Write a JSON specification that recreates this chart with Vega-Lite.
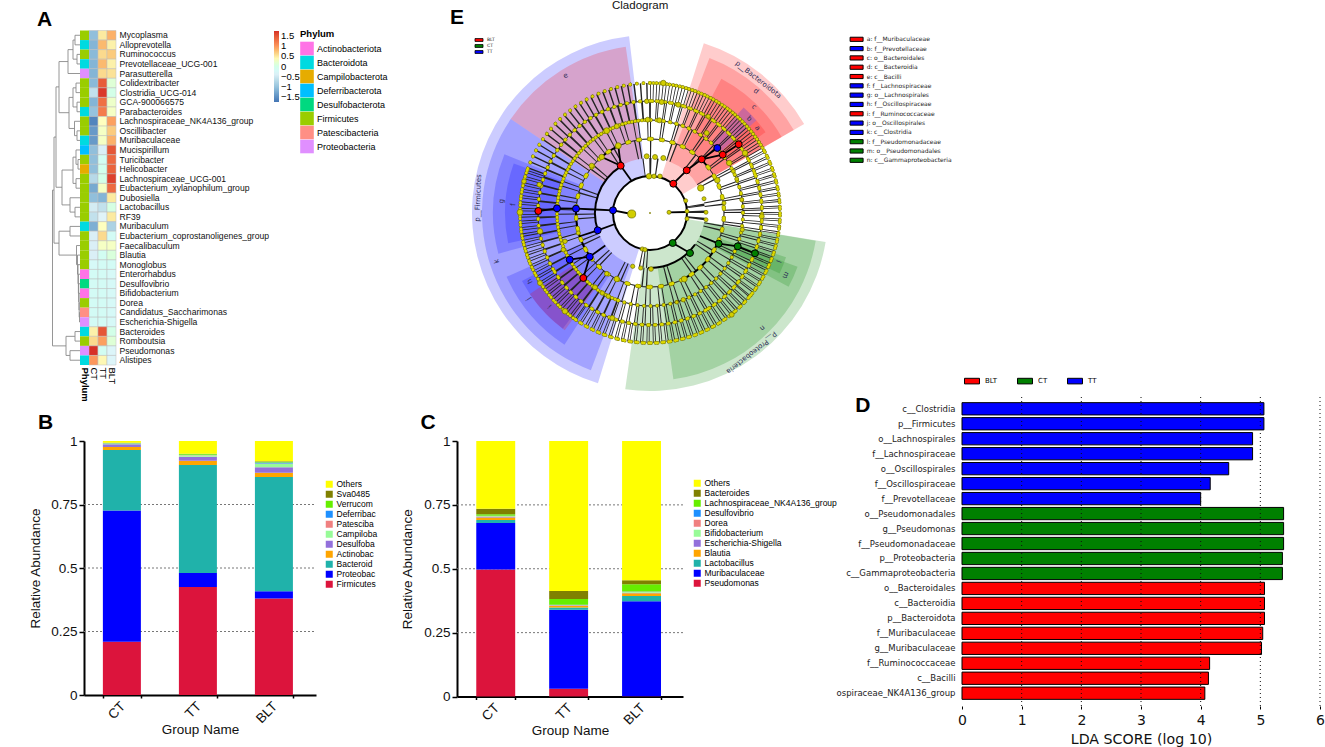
{"$schema":"https://vega.github.io/schema/vega-lite/v6.json","width":1325,"height":747,"padding":0,"autosize":{"type":"none"},"background":"white","config":{"view":{"stroke":null},"font":"Liberation Sans","axis":{"labelFont":"Liberation Sans","titleFont":"Liberation Sans","titleFontWeight":"normal","labelColor":"#111","titleColor":"#111","grid":false,"labelFlush":false},"legend":{"labelFont":"Liberation Sans","titleFont":"Liberation Sans"}},
"datasets":{
"heat":[
{"t":"Mycoplasma","Phylum":"Firmicutes","CT":-1.05,"TT":0.5,"BLT":0.85},
{"t":"Alloprevotella","Phylum":"Bacteroidota","CT":-1.15,"TT":0.8,"BLT":0.45},
{"t":"Ruminococcus","Phylum":"Firmicutes","CT":-1.1,"TT":0.6,"BLT":0.7},
{"t":"Prevotellaceae_UCG-001","Phylum":"Bacteroidota","CT":-1.15,"TT":0.8,"BLT":0.45},
{"t":"Parasutterella","Phylum":"Proteobacteria","CT":-1.15,"TT":0.6,"BLT":0.55},
{"t":"Colidextribacter","Phylum":"Firmicutes","CT":-1.1,"TT":1.45,"BLT":0.15},
{"t":"Clostridia_UCG-014","Phylum":"Firmicutes","CT":-0.6,"TT":1.7,"BLT":0},
{"t":"GCA-900066575","Phylum":"Firmicutes","CT":-1.15,"TT":1.3,"BLT":0.25},
{"t":"Parabacteroides","Phylum":"Bacteroidota","CT":-1,"TT":1.2,"BLT":0.3},
{"t":"Lachnospiraceae_NK4A136_group","Phylum":"Firmicutes","CT":-1.6,"TT":0.35,"BLT":0.95},
{"t":"Oscillibacter","Phylum":"Firmicutes","CT":-1.4,"TT":0.3,"BLT":0.7},
{"t":"Muribaculaceae","Phylum":"Bacteroidota","CT":-1.4,"TT":0.3,"BLT":0.85},
{"t":"Mucispirillum","Phylum":"Deferribacterota","CT":-1.05,"TT":-0.4,"BLT":1.5},
{"t":"Turicibacter","Phylum":"Firmicutes","CT":-1.05,"TT":-0.1,"BLT":1.35},
{"t":"Helicobacter","Phylum":"Campilobacterota","CT":-1.05,"TT":-0.05,"BLT":1.4},
{"t":"Lachnospiraceae_UCG-001","Phylum":"Firmicutes","CT":-0.7,"TT":0,"BLT":1.65},
{"t":"Eubacterium_xylanophilum_group","Phylum":"Firmicutes","CT":-1.25,"TT":0.3,"BLT":1.35},
{"t":"Dubosiella","Phylum":"Firmicutes","CT":-1.05,"TT":-1.15,"BLT":0.5},
{"t":"Lactobacillus","Phylum":"Firmicutes","CT":-0.45,"TT":-0.6,"BLT":0.05},
{"t":"RF39","Phylum":"Firmicutes","CT":-0.6,"TT":-0.35,"BLT":0.5},
{"t":"Muribaculum","Phylum":"Bacteroidota","CT":-1.2,"TT":0.35,"BLT":-0.8},
{"t":"Eubacterium_coprostanoligenes_group","Phylum":"Firmicutes","CT":-0.4,"TT":0.6,"BLT":-0.15},
{"t":"Faecalibaculum","Phylum":"Firmicutes","CT":-0.4,"TT":0.3,"BLT":0.3},
{"t":"Blautia","Phylum":"Firmicutes","CT":-0.4,"TT":-0.1,"BLT":0.1},
{"t":"Monoglobus","Phylum":"Firmicutes","CT":-0.2,"TT":-0.15,"BLT":-0.15},
{"t":"Enterorhabdus","Phylum":"Actinobacteriota","CT":-0.15,"TT":-0.15,"BLT":-0.2},
{"t":"Desulfovibrio","Phylum":"Desulfobacterota","CT":-0.15,"TT":-0.15,"BLT":-0.2},
{"t":"Bifidobacterium","Phylum":"Actinobacteriota","CT":-0.15,"TT":-0.15,"BLT":-0.2},
{"t":"Dorea","Phylum":"Firmicutes","CT":-0.15,"TT":-0.15,"BLT":-0.2},
{"t":"Candidatus_Saccharimonas","Phylum":"Patescibacteria","CT":-0.15,"TT":-0.15,"BLT":-0.2},
{"t":"Escherichia-Shigella","Phylum":"Proteobacteria","CT":-0.15,"TT":-0.15,"BLT":-0.2},
{"t":"Bacteroides","Phylum":"Bacteroidota","CT":0.45,"TT":1.5,"BLT":0},
{"t":"Romboutsia","Phylum":"Firmicutes","CT":0.6,"TT":0.95,"BLT":0.15},
{"t":"Pseudomonas","Phylum":"Proteobacteria","CT":1.75,"TT":-0.1,"BLT":-0.3},
{"t":"Alistipes","Phylum":"Bacteroidota","CT":1,"TT":0.4,"BLT":-0.3}],
"tree":[
{"a":0,"r":1,"h":5,"s":2,"b":0},{"a":0,"r":3,"h":3,"s":4,"b":0},{"a":5,"r":1.5,"h":7,"s":3.5,"b":3},{"a":7,"r":2.5,"h":12,"s":5,"b":0},
{"a":0,"r":6,"h":4,"s":7,"b":0},{"a":0,"r":8,"h":3,"s":9,"b":0},{"a":4,"r":6.5,"h":7,"s":8.5,"b":3},{"a":0,"r":11,"h":3,"s":12,"b":0},
{"a":0,"r":10,"h":5.5,"s":11.5,"b":3},{"a":7,"r":7.5,"h":11,"s":10.75,"b":5.5},{"a":12,"r":3.75,"h":21,"s":9.1,"b":11},
{"a":0,"r":14,"h":2,"s":15,"b":0},{"a":0,"r":13,"h":4,"s":14.5,"b":2},{"a":0,"r":16,"h":4,"s":17,"b":0},{"a":4,"r":13.75,"h":7,"s":16.5,"b":4},
{"a":0,"r":19,"h":5,"s":20,"b":0},{"a":0,"r":18,"h":10,"s":19.5,"b":5},{"a":7,"r":15.1,"h":18,"s":18.75,"b":10},{"a":21,"r":6.4,"h":24,"s":16.9,"b":18},
{"a":0,"r":21,"h":10,"s":22,"b":0},{"a":0,"r":30,"h":0.5,"s":31,"b":0},{"a":0,"r":29,"h":0.8,"s":30.5,"b":0.5},{"a":0,"r":28,"h":1,"s":29.75,"b":0.8},
{"a":0,"r":27,"h":1.3,"s":28.9,"b":1},{"a":0,"r":26,"h":1.6,"s":28,"b":1.3},{"a":0,"r":25,"h":2,"s":27,"b":1.6},{"a":0,"r":24,"h":2.5,"s":26,"b":2},
{"a":0,"r":23,"h":3.5,"s":25,"b":2.5},{"a":10,"r":21.5,"h":21,"s":24,"b":3.5},{"a":24,"r":11.65,"h":26,"s":22.75,"b":21},
{"a":0,"r":32,"h":5,"s":33,"b":0},{"a":0,"r":34,"h":10,"s":35,"b":0},{"a":5,"r":32.5,"h":14,"s":34.5,"b":10},{"a":26,"r":17.2,"h":27.5,"s":33.5,"b":14}],
"dots":[
{"a0":0,"a1":62,"r0":130,"r1":130},{"a0":62,"a1":130,"r0":130,"r1":130},{"a0":130,"a1":215,"r0":130,"r1":130},{"a0":215,"a1":290,"r0":130,"r1":130},{"a0":290,"a1":360,"r0":130,"r1":130},
{"a0":0,"a1":70,"r0":112,"r1":112},{"a0":70,"a1":150,"r0":112,"r1":112},{"a0":150,"a1":240,"r0":112,"r1":112},{"a0":240,"a1":360,"r0":112,"r1":112},
{"a0":0,"a1":90,"r0":93,"r1":93},{"a0":90,"a1":200,"r0":93,"r1":93},{"a0":200,"a1":360,"r0":93,"r1":93}]
},
"resolve":{"scale":{"x":"independent","y":"independent","color":"independent"},"axis":{"x":"independent","y":"independent"},"legend":{"color":"independent"}},
"layer":[
{"data":{"name":"tree"},"layer":[
{"mark":{"type":"rule","color":"#8a8a8a","strokeWidth":0.9},"encoding":{"x":{"field":"h","type":"quantitative","axis":null,"scale":{"domain":[28,0],"range":[52,80],"nice":false,"zero":false}},"y":{"field":"r","type":"quantitative","axis":null,"scale":{"domain":[0.5,35.5],"range":[30.5,365],"nice":false,"zero":false}},"y2":{"field":"s"}}},
{"mark":{"type":"rule","color":"#8a8a8a","strokeWidth":0.9},"encoding":{"x":{"field":"a","type":"quantitative","axis":null,"scale":{"domain":[28,0],"range":[52,80],"nice":false,"zero":false}},"x2":{"field":"h"},"y":{"field":"r","type":"quantitative","axis":null,"scale":{"domain":[0.5,35.5],"range":[30.5,365],"nice":false,"zero":false}}}},
{"mark":{"type":"rule","color":"#8a8a8a","strokeWidth":0.9},"encoding":{"x":{"field":"b","type":"quantitative","axis":null,"scale":{"domain":[28,0],"range":[52,80],"nice":false,"zero":false}},"x2":{"field":"h"},"y":{"field":"s","type":"quantitative","axis":null,"scale":{"domain":[0.5,35.5],"range":[30.5,365],"nice":false,"zero":false}}}},
{"data":{"values":[{"n":"A","h":43,"r":-0.6}]},"mark":{"type":"text","align":"left","baseline":"middle","fontSize":21,"fontWeight":"bold","font":"Liberation Sans","color":"#000"},"encoding":{"x":{"field":"h","type":"quantitative","axis":null,"scale":{"domain":[28,0],"range":[52,80],"nice":false,"zero":false}},"y":{"field":"r","type":"quantitative","axis":null,"scale":{"domain":[0.5,35.5],"range":[30.5,365],"nice":false,"zero":false}},"text":{"field":"n"}}}
]},
{"data":{"name":"heat"},"transform":[{"fold":["CT","TT","BLT"],"as":["c","v"]}],"mark":{"type":"rect","stroke":"#bcbcbc","strokeWidth":0.5},"encoding":{
"x":{"field":"c","type":"nominal","scale":{"domain":["Phylum","CT","TT","BLT"],"range":[80,116]},"axis":{"orient":"bottom","offset":-382,"title":null,"labelAngle":90,"domain":false,"ticks":false,"labelPadding":2,"labelFontSize":9.5,"labelColor":"#000","labelFontWeight":{"condition":{"test":"datum.value=='Phylum'","value":"bold"},"value":"normal"}}},
"y":{"field":"t","type":"nominal","sort":null,"scale":{"range":[30.5,365]},"axis":{"orient":"right","offset":-1209,"title":null,"domain":false,"ticks":false,"labelPadding":3,"labelFontSize":8.6,"labelLimit":200,"labelColor":"#111"}},
"color":{"field":"v","type":"quantitative","scale":{"domain":[-1.75,-1.05,-0.35,0.35,1.05,1.75],"range":["#4575B4","#91BFDB","#E0F3F8","#FFFFBF","#FC8D59","#D73027"]},"legend":{"orient":"none","legendX":274,"legendY":31,"title":null,"gradientLength":71,"gradientThickness":5,"values":[-1.5,-1,-0.5,0,0.5,1,1.5],"format":".1~f","labelFontSize":9.5,"labelOffset":2,"labelExpr":"replace(datum.label,'-','−')"}}}},
{"data":{"name":"heat"},"transform":[{"fold":["Phylum"],"as":["c","p"]}],"mark":{"type":"rect"},"encoding":{
"x":{"field":"c","type":"nominal","axis":null,"scale":{"domain":["Phylum","CT","TT","BLT"],"range":[80,116]}},
"y":{"field":"t","type":"nominal","sort":null,"axis":null,"scale":{"range":[30.5,365]}},
"color":{"field":"p","type":"nominal","scale":{"domain":["Actinobacteriota","Bacteroidota","Campilobacterota","Deferribacterota","Desulfobacterota","Firmicutes","Patescibacteria","Proteobacteria"],"range":["#FF73E6","#00DAE0","#E6AC00","#00BFFF","#00D980","#9ACD00","#FF8F85","#E08FFF"]},"legend":{"orient":"none","legendX":300,"legendY":29,"title":"Phylum","titleFontSize":9.5,"titleFontWeight":"bold","titlePadding":3,"symbolType":"square","symbolSize":185,"symbolStrokeWidth":0,"rowPadding":0,"labelFontSize":9,"labelOffset":3,"labelLimit":90}}}},

{"data":{"values":[{"v":0.25},{"v":0.5},{"v":0.75}]},"mark":{"type":"rule","color":"#777","strokeDash":[2,2],"strokeWidth":1},"encoding":{"x":{"datum":0,"type":"quantitative","axis":null,"scale":{"domain":[0,1],"range":[84,316],"nice":false}},"x2":{"datum":1},"y":{"field":"v","type":"quantitative","axis":null,"scale":{"domain":[0,1],"range":[695,441],"nice":false}}}},
{"data":{"values":[{"n":"B","x":-0.198,"y":1.071}]},"mark":{"type":"text","align":"left","baseline":"middle","fontSize":21,"fontWeight":"bold","color":"#000"},"encoding":{"x":{"field":"x","type":"quantitative","axis":null,"scale":{"domain":[0,1],"range":[84,316],"nice":false,"zero":false}},"y":{"field":"y","type":"quantitative","axis":null,"scale":{"domain":[0,1],"range":[695,441],"nice":false,"zero":false}},"text":{"field":"n"}}},
{"data":{"values":[
{"o":1,"t":"Firmicutes","CT":0.21,"TT":0.425,"BLT":0.38},
{"o":2,"t":"Proteobac","CT":0.516,"TT":0.055,"BLT":0.028},
{"o":3,"t":"Bacteroid","CT":0.239,"TT":0.426,"BLT":0.45},
{"o":4,"t":"Actinobac","CT":0.011,"TT":0.016,"BLT":0.017},
{"o":5,"t":"Desulfoba","CT":0.011,"TT":0.016,"BLT":0.022},
{"o":6,"t":"Campiloba","CT":0.002,"TT":0.006,"BLT":0.013},
{"o":7,"t":"Patesciba","CT":0.001,"TT":0.001,"BLT":0.001},
{"o":8,"t":"Deferribac","CT":0.001,"TT":0.001,"BLT":0.004},
{"o":9,"t":"Verrucom","CT":0.001,"TT":0.003,"BLT":0.003},
{"o":10,"t":"Sva0485","CT":0.001,"TT":0.001,"BLT":0.002},
{"o":11,"t":"Others","CT":0.007,"TT":0.05,"BLT":0.08}]},
"transform":[{"fold":["CT","TT","BLT"],"as":["g","v"]}],"mark":{"type":"bar"},"encoding":{
"x":{"field":"g","type":"nominal","scale":{"domain":["CT","TT","BLT"],"range":[84,316],"paddingInner":0.5,"paddingOuter":0.276,"align":0.45},"axis":{"orient":"bottom","offset":-52,"title":"Group Name","labelAngle":-45,"labelOffset":-4,"tickBand":"extent","domainWidth":2,"domainColor":"#000","tickColor":"#000","tickWidth":1.5,"tickSize":3,"labelFontSize":13.5,"titleFontSize":13.5,"labelPadding":1,"titlePadding":-3}},
"y":{"field":"v","type":"quantitative","stack":"zero","scale":{"domain":[0,1],"range":[695,441],"nice":false},"axis":{"orient":"left","offset":-84,"title":"Relative Abundance","values":[0,0.25,0.5,0.75,1],"format":".2~f","domainWidth":2,"domainColor":"#000","tickColor":"#000","tickWidth":1.5,"tickSize":5,"labelFontSize":13.5,"titleFontSize":13.5,"labelPadding":2,"titlePadding":8}},
"order":{"field":"o","type":"quantitative"},
"color":{"field":"t","type":"nominal","scale":{"domain":["Others","Sva0485","Verrucom","Deferribac","Patesciba","Campiloba","Desulfoba","Actinobac","Bacteroid","Proteobac","Firmicutes"],"range":["#FFFF00","#808000","#66EE00","#1E90FF","#F08080","#98FB98","#9370DB","#FFA500","#20B2AA","#0000FF","#DC143C"]},"legend":{"orient":"none","legendX":325,"legendY":480,"title":null,"symbolType":"square","symbolSize":49,"symbolStrokeWidth":0,"labelFontSize":8.5,"labelOffset":3,"rowPadding":1,"labelLimit":70}}}},

{"data":{"values":[{"v":0.25},{"v":0.5},{"v":0.75}]},"mark":{"type":"rule","color":"#777","strokeDash":[2,2],"strokeWidth":1},"encoding":{"x":{"datum":0,"type":"quantitative","axis":null,"scale":{"domain":[0,1],"range":[457,683],"nice":false}},"x2":{"datum":1},"y":{"field":"v","type":"quantitative","axis":null,"scale":{"domain":[0,1],"range":[696.5,441],"nice":false}}}},
{"data":{"values":[{"n":"C","x":-0.162,"y":1.07}]},"mark":{"type":"text","align":"left","baseline":"middle","fontSize":21,"fontWeight":"bold","color":"#000"},"encoding":{"x":{"field":"x","type":"quantitative","axis":null,"scale":{"domain":[0,1],"range":[457,683],"nice":false,"zero":false}},"y":{"field":"y","type":"quantitative","axis":null,"scale":{"domain":[0,1],"range":[696.5,441],"nice":false,"zero":false}},"text":{"field":"n"}}},
{"data":{"values":[
{"o":1,"t":"Pseudomonas","CT":0.497,"TT":0.03,"BLT":0.001},
{"o":2,"t":"Muribaculaceae","CT":0.182,"TT":0.31,"BLT":0.372},
{"o":3,"t":"Lactobacillus","CT":0.012,"TT":0.008,"BLT":0.02},
{"o":4,"t":"Blautia","CT":0.01,"TT":0.006,"BLT":0.011},
{"o":5,"t":"Escherichia-Shigella","CT":0.002,"TT":0.002,"BLT":0.002},
{"o":6,"t":"Bifidobacterium","CT":0.002,"TT":0.001,"BLT":0.003},
{"o":7,"t":"Dorea","CT":0.001,"TT":0.001,"BLT":0.001},
{"o":8,"t":"Desulfovibrio","CT":0.001,"TT":0.001,"BLT":0.001},
{"o":9,"t":"Lachnospiraceae_NK4A136_group","CT":0.006,"TT":0.023,"BLT":0.028},
{"o":10,"t":"Bacteroides","CT":0.022,"TT":0.031,"BLT":0.016},
{"o":11,"t":"Others","CT":0.265,"TT":0.587,"BLT":0.545}]},
"transform":[{"fold":["CT","TT","BLT"],"as":["g","v"]}],"mark":{"type":"bar"},"encoding":{
"x":{"field":"g","type":"nominal","scale":{"domain":["CT","TT","BLT"],"range":[457,683],"paddingInner":0.466,"paddingOuter":0.283,"align":0.467},"axis":{"orient":"bottom","offset":-50.5,"title":"Group Name","labelAngle":-45,"labelOffset":-4,"tickBand":"extent","domainWidth":2,"domainColor":"#000","tickColor":"#000","tickWidth":1.5,"tickSize":3,"labelFontSize":13.5,"titleFontSize":13.5,"labelPadding":1,"titlePadding":-3}},
"y":{"field":"v","type":"quantitative","stack":"zero","scale":{"domain":[0,1],"range":[696.5,441],"nice":false},"axis":{"orient":"left","offset":-457,"title":"Relative Abundance","values":[0,0.25,0.5,0.75,1],"format":".2~f","domainWidth":2,"domainColor":"#000","tickColor":"#000","tickWidth":1.5,"tickSize":5,"labelFontSize":13.5,"titleFontSize":13.5,"labelPadding":2,"titlePadding":9}},
"order":{"field":"o","type":"quantitative"},
"color":{"field":"t","type":"nominal","scale":{"domain":["Others","Bacteroides","Lachnospiraceae_NK4A136_group","Desulfovibrio","Dorea","Bifidobacterium","Escherichia-Shigella","Blautia","Lactobacillus","Muribaculaceae","Pseudomonas"],"range":["#FFFF00","#808000","#66EE00","#1E90FF","#F08080","#98FB98","#9370DB","#FFA500","#20B2AA","#0000FF","#DC143C"]},"legend":{"orient":"none","legendX":693,"legendY":479,"title":null,"symbolType":"square","symbolSize":49,"symbolStrokeWidth":0,"labelFontSize":8.5,"labelOffset":3,"rowPadding":1,"labelLimit":160}}}},

{"layer":[
{"layer":[
{"data":{"values":[
{"a0":197,"a1":353.25,"r0":37,"r1":178,"g":"TT"},{"a0":304,"a1":351.7,"r0":55,"r1":168,"g":"BLT"},{"a0":200.6,"a1":304,"r0":55,"r1":168,"g":"TT"},{"a0":255,"a1":292,"r0":74,"r1":157,"g":"TT"},{"a0":258,"a1":290,"r0":93,"r1":145,"g":"TT"},{"a0":213,"a1":246,"r0":74,"r1":157,"g":"TT"},{"a0":217,"a1":242,"r0":93,"r1":145,"g":"TT"},{"a0":216,"a1":236,"r0":93,"r1":145,"g":"BLT"},
{"a0":17.6,"a1":60,"r0":37,"r1":178,"g":"BLT"},{"a0":21,"a1":60,"r0":55,"r1":166,"g":"BLT"},{"a0":28,"a1":60,"r0":74,"r1":152,"g":"BLT"},{"a0":41.6,"a1":49,"r0":93,"r1":141,"g":"TT"},{"a0":49,"a1":55,"r0":93,"r1":141,"g":"BLT"},
{"a0":99.4,"a1":188,"r0":37,"r1":178,"g":"CT"},{"a0":99.5,"a1":172,"r0":55,"r1":168,"g":"CT"},{"a0":110,"a1":118,"r0":74,"r1":157,"g":"CT"},{"a0":108,"a1":115,"r0":93,"r1":143,"g":"CT"}]},
"mark":{"type":"arc","opacity":0.2},"encoding":{"color":{"field":"g","type":"nominal","legend":null,"scale":{"domain":["BLT","CT","TT"],"range":["#FF0000","#008000","#0000FF"]}}}},
{"data":{"values":[{"a0":0,"a1":12,"r0":46,"r1":46},{"a0":352,"a1":360,"r0":46,"r1":46},{"a0":183,"a1":193,"r0":46,"r1":46},{"a0":80,"a1":100,"r0":46,"r1":46}]},"mark":{"type":"arc","fillOpacity":0,"stroke":"#222","strokeWidth":18,"strokeDash":[1,5]}},
{"data":{"values":[{"a0":0,"a1":360,"r0":64.5,"r1":64.5}]},"mark":{"type":"arc","fillOpacity":0,"stroke":"#222","strokeWidth":19,"strokeDash":[1.2,22]}},
{"data":{"values":[{"a0":0,"a1":120,"r0":83.5,"r1":83.5},{"a0":120,"a1":360,"r0":83.5,"r1":83.5}]},"mark":{"type":"arc","fillOpacity":0,"stroke":"#222","strokeWidth":19,"strokeDash":[1,12]}},
{"data":{"values":[{"a0":0,"a1":90,"r0":102.5,"r1":102.5},{"a0":90,"a1":200,"r0":102.5,"r1":102.5},{"a0":200,"a1":360,"r0":102.5,"r1":102.5}]},"mark":{"type":"arc","fillOpacity":0,"stroke":"#222","strokeWidth":19,"strokeDash":[0.9,6.6]}},
{"data":{"values":[{"a0":0,"a1":62,"r0":121,"r1":121},{"a0":62,"a1":130,"r0":121,"r1":121},{"a0":130,"a1":215,"r0":121,"r1":121},{"a0":215,"a1":290,"r0":121,"r1":121},{"a0":290,"a1":360,"r0":121,"r1":121}]},"mark":{"type":"arc","fillOpacity":0,"stroke":"#222","strokeWidth":18,"strokeDash":[0.8,5.2]}},
{"data":{"values":[{"a0":0,"a1":360,"r0":74,"r1":74},{"a0":0,"a1":360,"r0":93,"r1":93},{"a0":0,"a1":360,"r0":112,"r1":112}]},"mark":{"type":"arc","fillOpacity":0,"stroke":"#222","strokeWidth":0.7}},
{"data":{"values":[{"a0":0,"a1":360,"r0":37,"r1":37},{"a0":251,"a1":328,"r0":55,"r1":55},{"a0":125,"a1":182,"r0":55,"r1":55},{"a0":234,"a1":273,"r0":74,"r1":74},{"a0":315,"a1":335,"r0":74,"r1":74},{"a0":114,"a1":153,"r0":74,"r1":74},{"a0":218,"a1":240,"r0":93,"r1":93},{"a0":46,"a1":51,"r0":74,"r1":74},{"a0":111,"a1":114,"r0":93,"r1":93}]},"mark":{"type":"arc","fillOpacity":0,"stroke":"#000","strokeWidth":2}},
{"data":{"name":"dots"},"mark":{"type":"arc","fillOpacity":0,"stroke":"#6f6f00","strokeWidth":3.8,"strokeCap":"round","strokeDash":[0.01,6.6]}},
{"data":{"name":"dots"},"mark":{"type":"arc","fillOpacity":0,"stroke":"#DCD800","strokeWidth":2.8,"strokeCap":"round","strokeDash":[0.01,6.6]}},
{"data":{"values":[{"a0":0,"a1":180,"r0":74,"r1":74},{"a0":180,"a1":360,"r0":74,"r1":74}]},"mark":{"type":"arc","fillOpacity":0,"stroke":"#6f6f00","strokeWidth":4.4,"strokeCap":"round","strokeDash":[0.01,11]}},
{"data":{"values":[{"a0":0,"a1":180,"r0":74,"r1":74},{"a0":180,"a1":360,"r0":74,"r1":74}]},"mark":{"type":"arc","fillOpacity":0,"stroke":"#DCD800","strokeWidth":3.3,"strokeCap":"round","strokeDash":[0.01,11]}}
],"encoding":{
"x":{"datum":0,"type":"quantitative","axis":null,"scale":{"domain":[-180,180],"range":[470,830],"nice":false,"zero":false}},
"y":{"datum":0,"type":"quantitative","axis":null,"scale":{"domain":[-180,180],"range":[393,33],"nice":false,"zero":false}},
"theta":{"field":"a0","type":"quantitative","scale":{"domain":[0,360],"range":[0,6.283185]}},
"theta2":{"field":"a1"},
"radius":{"field":"r1","type":"quantitative","scale":{"type":"linear","domain":[0,180],"range":[0,180]}},
"radius2":{"field":"r0"}}},
{"data":{"values":[
{"x":-18.3,"y":-1,"x2":-37,"y2":2.7},{"x":-37,"y":2.7,"x2":-55,"y2":3.5},{"x":-55,"y":3.5,"x2":-74,"y2":4.3},{"x":-74,"y":4.3,"x2":-93,"y2":4.7},{"x":-93,"y":4.7,"x2":-111.7,"y2":2},
{"x":-35,"y":-11,"x2":-52.3,"y2":-17.3},{"x":-52.3,"y":-17.3,"x2":-71,"y2":-23.5},{"x":-44.7,"y":-32.4,"x2":-60.3,"y2":-43.7},{"x":-60.3,"y":-43.7,"x2":-80.3,"y2":-46.7},{"x":-60.3,"y":-43.7,"x2":-66.7,"y2":-65},
{"x":-18.4,"y":32,"x2":-29.3,"y2":47.3},{"x":-29.3,"y":47.3,"x2":-31.7,"y2":67.3},{"x":-29.3,"y":47.3,"x2":-48.3,"y2":56},
{"x":23.3,"y":29.3,"x2":36.7,"y2":42.7},{"x":36.7,"y":42.7,"x2":51.7,"y2":53.7},{"x":51.7,"y":53.7,"x2":72.7,"y2":58.3},{"x":51.7,"y":53.7,"x2":67.3,"y2":65},{"x":72.7,"y":58.3,"x2":88.7,"y2":68.7},
{"x":22.7,"y":-30,"x2":40,"y2":-40},{"x":50,"y":-23,"x2":68.7,"y2":-30.7},{"x":68.7,"y":-30.7,"x2":87.7,"y2":-33.3},{"x":87.7,"y":-33.3,"x2":105,"y2":-40.3},{"x":19,"y":0.7,"x2":37,"y2":1}]},
"mark":{"type":"rule","color":"#000","strokeWidth":1.8},"encoding":{"x":{"field":"x","type":"quantitative","axis":null,"scale":{"domain":[-180,180],"range":[470,830],"nice":false,"zero":false}},"y":{"field":"y","type":"quantitative","axis":null,"scale":{"domain":[-180,180],"range":[393,33],"nice":false,"zero":false}},"x2":{"field":"x2"},"y2":{"field":"y2"}}},
{"data":{"values":[
{"x":-18.3,"y":-1,"s":65},{"x":19,"y":0.7,"s":16},{"x":35.7,"y":12.3,"s":16},{"x":37,"y":1.7,"s":16},{"x":37,"y":-5.7,"s":16},{"x":-1,"y":36.7,"s":30},{"x":4,"y":36.7,"s":20},{"x":10,"y":36.7,"s":20},{"x":-7.7,"y":-36,"s":18},{"x":-5,"y":-36.7,"s":18},{"x":-17.3,"y":-53.3,"s":18},{"x":-9.3,"y":-55,"s":18},{"x":1,"y":-56,"s":22},{"x":-43.3,"y":82.3,"s":35},{"x":-31.7,"y":67.3,"s":35},{"x":-48.3,"y":56,"s":30},{"x":-58.3,"y":47.3,"s":25},{"x":-33.3,"y":86.7,"s":25},{"x":50.7,"y":25,"s":40},{"x":67.3,"y":32.7,"s":30},{"x":54,"y":14.3,"s":16},{"x":83.3,"y":41.7,"s":16},{"x":86.7,"y":34,"s":16},{"x":34.3,"y":-66,"s":35},{"x":-71.7,"y":-20,"s":18},{"x":-86.7,"y":-36.7,"s":20},{"x":-85,"y":-28.3,"s":20},{"x":-43.3,"y":-60.7,"s":20},{"x":-33.3,"y":-66,"s":30},{"x":-55,"y":-74.3,"s":25},{"x":-47.7,"y":-80,"s":20},{"x":-41.7,"y":-83.3,"s":20},{"x":-85,"y":-98.3,"s":30},{"x":-37.7,"y":-105,"s":25},{"x":81.7,"y":-101.7,"s":25},{"x":33.3,"y":-86.7,"s":20},{"x":26.7,"y":-89.3,"s":12},{"x":13.3,"y":130,"s":30},{"x":-3.3,"y":111.7,"s":20},{"x":11.7,"y":111,"s":25},{"x":28.3,"y":108.3,"s":25},{"x":-2.3,"y":93.3,"s":25},{"x":9.3,"y":92.7,"s":25},{"x":56.7,"y":80,"s":25},{"x":58.3,"y":96.7,"s":18},{"x":95,"y":60,"s":30},{"x":79.3,"y":50,"s":30},{"x":-3.3,"y":56.7,"s":25},{"x":5,"y":56,"s":25},{"x":13.3,"y":55,"s":25},{"x":56,"y":0.7,"s":16},{"x":56,"y":-6.7,"s":16},{"x":74,"y":10,"s":16},{"x":91.7,"y":13.3,"s":16},{"x":111.7,"y":-3.3,"s":25},{"x":92.3,"y":-16.7,"s":18},{"x":-110,"y":-18.3,"s":30},{"x":-110.7,"y":28.3,"s":22},{"x":-126,"y":31.7,"s":22},{"x":-130,"y":0.7,"s":35},{"x":-110,"y":-70,"s":25},{"x":0,"y":0,"s":1.5}]},
"mark":{"type":"point","filled":true,"opacity":1,"fill":"#D2CE00","stroke":"#6f6f00","strokeWidth":0.7},"encoding":{"x":{"field":"x","type":"quantitative","axis":null,"scale":{"domain":[-180,180],"range":[470,830],"nice":false,"zero":false}},"y":{"field":"y","type":"quantitative","axis":null,"scale":{"domain":[-180,180],"range":[393,33],"nice":false,"zero":false}},"size":{"field":"s","type":"quantitative","scale":null}}},
{"data":{"values":[
{"x":-37,"y":2.7,"g":"TT"},{"x":-52.3,"y":-17.3,"g":"TT"},{"x":-74,"y":4.3,"g":"TT"},{"x":-93,"y":4.7,"g":"TT"},{"x":-60.3,"y":-43.7,"g":"TT"},{"x":-80.3,"y":-46.7,"g":"TT"},{"x":67.3,"y":65,"g":"TT"},
{"x":-29.3,"y":47.3,"g":"BLT"},{"x":23.3,"y":29.3,"g":"BLT"},{"x":36.7,"y":42.7,"g":"BLT"},{"x":51.7,"y":53.7,"g":"BLT"},{"x":72.7,"y":58.3,"g":"BLT"},{"x":88.7,"y":68.7,"g":"BLT"},{"x":-111.7,"y":2,"g":"BLT"},{"x":-66.7,"y":-65,"g":"BLT"},
{"x":22.7,"y":-30,"g":"CT"},{"x":40,"y":-40,"g":"CT"},{"x":68.7,"y":-30.7,"g":"CT"},{"x":87.7,"y":-33.3,"g":"CT"},{"x":105,"y":-40.3,"g":"CT"}]},
"mark":{"type":"point","filled":true,"opacity":1,"stroke":"#000","strokeWidth":1,"size":48},"encoding":{"x":{"field":"x","type":"quantitative","axis":null,"scale":{"domain":[-180,180],"range":[470,830],"nice":false,"zero":false}},"y":{"field":"y","type":"quantitative","axis":null,"scale":{"domain":[-180,180],"range":[393,33],"nice":false,"zero":false}},"color":{"field":"g","type":"nominal","legend":null,"scale":{"domain":["BLT","CT","TT"],"range":["#FF0000","#008000","#0000FF"]}}}},
{"data":{"values":[
{"x":108.3,"y":133.3,"t":"p__Bacteroidota","rot":38},{"x":-171.7,"y":15,"t":"p__Firmicutes","rot":-88},{"x":101.7,"y":-140,"t":"p__Proteobacteria","rot":142},
{"x":106,"y":121.7,"t":"d","rot":38},{"x":104,"y":106,"t":"c","rot":40},{"x":99.3,"y":94.3,"t":"b","rot":42},{"x":107.3,"y":85,"t":"a","rot":50},{"x":-84.3,"y":137.3,"t":"e","rot":-30},{"x":-148.3,"y":11.7,"t":"g","rot":-88},{"x":-136.7,"y":8.3,"t":"f","rot":-88},{"x":-153.3,"y":-48.3,"t":"k","rot":-108},{"x":-121.7,"y":-86,"t":"j","rot":-125},{"x":-120,"y":-68.3,"t":"h","rot":-120},{"x":-100,"y":-93.3,"t":"i","rot":-135},{"x":112.3,"y":-115,"t":"n","rot":140},{"x":128.3,"y":-48.3,"t":"l","rot":110},{"x":135.7,"y":-62.3,"t":"m","rot":115}]},
"mark":{"type":"text","font":"DejaVu Sans","fontSize":7,"color":"#2b2b55","align":"center","baseline":"middle"},"encoding":{"x":{"field":"x","type":"quantitative","axis":null,"scale":{"domain":[-180,180],"range":[470,830],"nice":false,"zero":false}},"y":{"field":"y","type":"quantitative","axis":null,"scale":{"domain":[-180,180],"range":[393,33],"nice":false,"zero":false}},"text":{"field":"t"},"angle":{"field":"rot","type":"quantitative","scale":null}}},
{"data":{"values":[{"x":-38,"y":207,"t":"Cladogram"}]},"mark":{"type":"text","font":"Liberation Sans","fontSize":11.5,"color":"#111","align":"left","baseline":"middle"},"encoding":{"x":{"field":"x","type":"quantitative","axis":null,"scale":{"domain":[-180,180],"range":[470,830],"nice":false,"zero":false}},"y":{"field":"y","type":"quantitative","axis":null,"scale":{"domain":[-180,180],"range":[393,33],"nice":false,"zero":false}},"text":{"field":"t"}}},
{"data":{"values":[{"x":-200,"y":195,"t":"E"}]},"mark":{"type":"text","font":"Liberation Sans","fontSize":21,"fontWeight":"bold","color":"#000","align":"left","baseline":"middle"},"encoding":{"x":{"field":"x","type":"quantitative","axis":null,"scale":{"domain":[-180,180],"range":[470,830],"nice":false,"zero":false}},"y":{"field":"y","type":"quantitative","axis":null,"scale":{"domain":[-180,180],"range":[393,33],"nice":false,"zero":false}},"text":{"field":"t"}}}
]},

{"data":{"values":[{"k":"BLT"},{"k":"CT"},{"k":"TT"}]},
"layer":[
{"mark":{"type":"point","filled":true,"opacity":1,"shape":"M-1 -0.36H1V0.36H-1Z","size":64,"stroke":"#000","strokeWidth":0.8},"encoding":{"x":{"datum":0.2,"type":"quantitative","axis":null,"scale":{"domain":[0,1],"range":[475,495],"nice":false,"zero":false}},"color":{"field":"k","type":"nominal","legend":null,"scale":{"domain":["BLT","CT","TT"],"range":["#FF0000","#008000","#0000FF"]}}}},
{"mark":{"type":"text","font":"DejaVu Sans","fontSize":4.5,"align":"left","baseline":"middle","color":"#222"},"encoding":{"x":{"datum":0.6,"type":"quantitative","axis":null,"scale":{"domain":[0,1],"range":[475,495],"nice":false,"zero":false}},"text":{"field":"k"}}}],
"encoding":{"y":{"field":"k","type":"nominal","sort":null,"axis":null,"scale":{"type":"point","range":[40,52],"padding":0}}}},

{"data":{"values":[
{"k":"a: f__Muribaculaceae","g":"BLT"},{"k":"b: f__Prevotellaceae","g":"TT"},{"k":"c: o__Bacteroidales","g":"BLT"},{"k":"d: c__Bacteroidia","g":"BLT"},{"k":"e: c__Bacilli","g":"BLT"},{"k":"f: f__Lachnospiraceae","g":"TT"},{"k":"g: o__Lachnospirales","g":"TT"},{"k":"h: f__Oscillospiraceae","g":"TT"},{"k":"i: f__Ruminococcaceae","g":"BLT"},{"k":"j: o__Oscillospirales","g":"TT"},{"k":"k: c__Clostridia","g":"TT"},{"k":"l: f__Pseudomonadaceae","g":"CT"},{"k":"m: o__Pseudomonadales","g":"CT"},{"k":"n: c__Gammaproteobacteria","g":"CT"}]},
"layer":[
{"mark":{"type":"point","filled":true,"opacity":1,"shape":"M-1 -0.32H1V0.32H-1Z","size":169,"stroke":"#000","strokeWidth":1},"encoding":{"x":{"datum":0.06,"type":"quantitative","axis":null,"scale":{"domain":[0,1],"range":[850,960],"nice":false,"zero":false}},"color":{"field":"g","type":"nominal","legend":null,"scale":{"domain":["BLT","CT","TT"],"range":["#FF0000","#008000","#0000FF"]}}}},
{"mark":{"type":"text","font":"DejaVu Sans","fontSize":6,"align":"left","baseline":"middle","color":"#222"},"encoding":{"x":{"datum":0.152,"type":"quantitative","axis":null,"scale":{"domain":[0,1],"range":[850,960],"nice":false,"zero":false}},"text":{"field":"k"}}}],
"encoding":{"y":{"field":"k","type":"nominal","sort":null,"axis":null,"scale":{"type":"point","range":[39.3,160.3],"padding":0}}}},

{"data":{"values":[
{"k":"c__Clostridia","v":5.06,"g":"TT"},{"k":"p__Firmicutes","v":5.06,"g":"TT"},{"k":"o__Lachnospirales","v":4.87,"g":"TT"},{"k":"f__Lachnospiraceae","v":4.87,"g":"TT"},{"k":"o__Oscillospirales","v":4.47,"g":"TT"},{"k":"f__Oscillospiraceae","v":4.16,"g":"TT"},{"k":"f__Prevotellaceae","v":4,"g":"TT"},
{"k":"o__Pseudomonadales","v":5.39,"g":"CT"},{"k":"g__Pseudomonas","v":5.39,"g":"CT"},{"k":"f__Pseudomonadaceae","v":5.39,"g":"CT"},{"k":"p__Proteobacteria","v":5.37,"g":"CT"},{"k":"c__Gammaproteobacteria","v":5.37,"g":"CT"},
{"k":"o__Bacteroidales","v":5.07,"g":"BLT"},{"k":"c__Bacteroidia","v":5.07,"g":"BLT"},{"k":"p__Bacteroidota","v":5.07,"g":"BLT"},{"k":"f__Muribaculaceae","v":5.04,"g":"BLT"},{"k":"g__Muribaculaceae","v":5.02,"g":"BLT"},{"k":"f__Ruminococcaceae","v":4.15,"g":"BLT"},{"k":"c__Bacilli","v":4.13,"g":"BLT"},{"k":"ospiraceae_NK4A136_group","v":4.07,"g":"BLT"}]},
"mark":{"type":"bar","stroke":"#000","strokeWidth":1},"encoding":{
"x":{"field":"v","type":"quantitative","scale":{"domain":[0,6],"range":[962,1320],"nice":false},"axis":{"orient":"bottom","offset":-41,"title":"LDA SCORE (log 10)","values":[0,1,2,3,4,5,6],"domain":false,"tickColor":"#000","tickSize":3,"labelFont":"DejaVu Sans","titleFont":"DejaVu Sans","labelFontSize":14,"titleFontSize":14.2,"labelPadding":4,"titlePadding":5}},
"y":{"field":"k","type":"nominal","sort":null,"scale":{"range":[396,706],"paddingInner":0.18,"paddingOuter":0.444},"axis":{"orient":"left","offset":-962,"title":null,"domain":false,"ticks":false,"labelFont":"DejaVu Sans","labelFontSize":8.5,"labelPadding":7,"labelLimit":150,"labelColor":"#222"}},
"color":{"field":"g","type":"nominal","scale":{"domain":["BLT","CT","TT"],"range":["#FF0000","#008000","#0000FF"]},"legend":{"orient":"none","direction":"horizontal","legendX":968,"legendY":377,"title":null,"symbolType":"M-2.14 -0.8H2.14V0.8H-2.14Z","symbolSize":49,"symbolStrokeColor":"#000","symbolStrokeWidth":1,"labelFont":"DejaVu Sans","labelFontSize":7,"labelOffset":9,"columnPadding":17}}}},
{"data":{"values":[{"v":1},{"v":2},{"v":3},{"v":4},{"v":5},{"v":6}]},"mark":{"type":"rule","color":"#111","strokeDash":[1,3],"strokeWidth":1},"encoding":{"x":{"field":"v","type":"quantitative","axis":null,"scale":{"domain":[0,6],"range":[962,1320],"nice":false}},"y":{"datum":0,"type":"quantitative","axis":null,"scale":{"domain":[0,1],"range":[706,396],"nice":false}},"y2":{"datum":1}}},
{"data":{"values":[{"n":"D","x":-1.79,"y":0.968}]},"mark":{"type":"text","align":"left","baseline":"middle","fontSize":21,"fontWeight":"bold","color":"#000","font":"Liberation Sans"},"encoding":{"x":{"field":"x","type":"quantitative","axis":null,"scale":{"domain":[0,6],"range":[962,1320],"nice":false,"zero":false}},"y":{"field":"y","type":"quantitative","axis":null,"scale":{"domain":[0,1],"range":[706,396],"nice":false,"zero":false}},"text":{"field":"n"}}}
]}
